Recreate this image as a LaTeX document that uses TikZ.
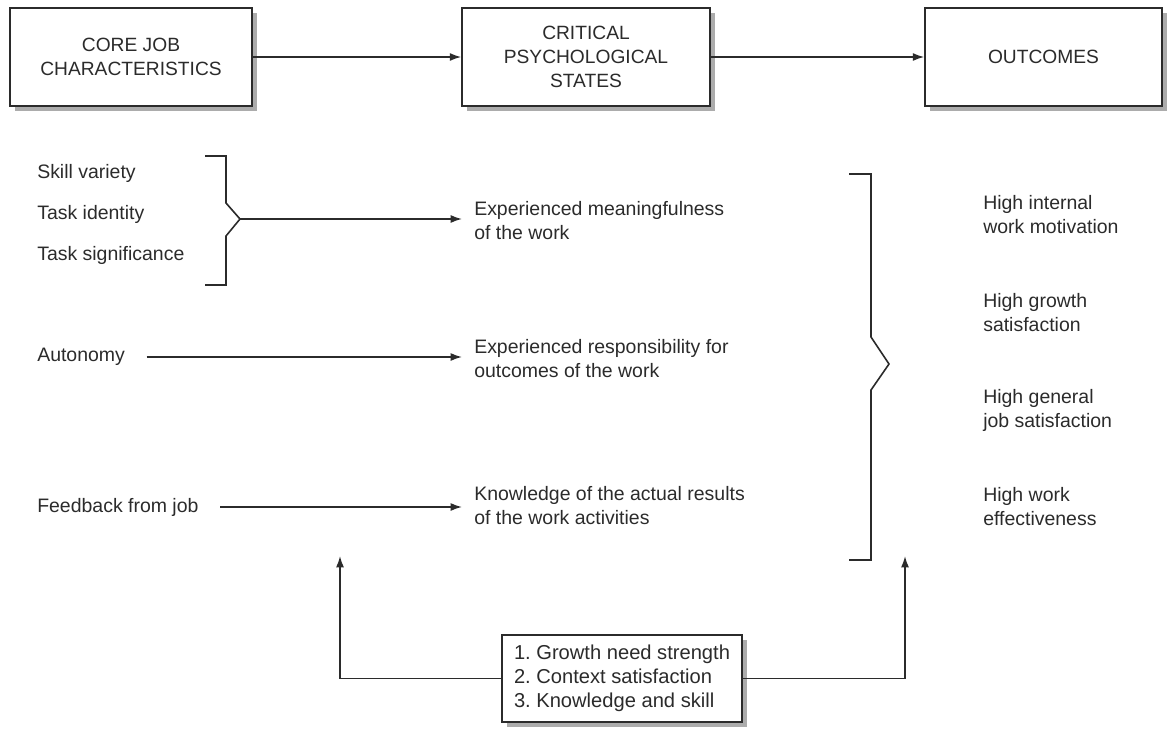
\documentclass[tikz,border=0pt]{standalone}
\usepackage{fontspec}
\setmainfont{Liberation Sans}
\usetikzlibrary{arrows.meta,shadows,positioning}
\definecolor{ink}{HTML}{2B2B2B}
\frenchspacing
\tikzset{
  headbox/.style={draw=ink, line width=1.2pt, fill=white, align=center,
    text=ink, font=\fontsize{14.4}{18}\selectfont,
    drop shadow={shadow xshift=3.5pt, shadow yshift=-3.5pt, fill=gray!65, opacity=1}},
  itemtext/.style={anchor=west, inner sep=0pt, align=left, text=ink,
    font=\fontsize{14.6}{18}\selectfont},
  flow/.style={draw=ink, line width=1.2pt, -{Latex[length=8.5pt,width=6pt]}},
  brace/.style={draw=ink, line width=1.2pt},
}
\begin{document}
\begin{tikzpicture}[x=0.75pt, y=-0.75pt]
  \useasboundingbox (0,0) rectangle (1170,732);
  % top row
  \node[headbox, minimum width=181.5pt, minimum height=73.5pt] (core) at (131,57) {CORE JOB\\CHARACTERISTICS};
  \node[headbox, minimum width=186pt, minimum height=73.5pt] (states) at (586,57) {CRITICAL\\PSYCHOLOGICAL\\STATES};
  \node[headbox, minimum width=177.75pt, minimum height=73.5pt] (outcomes) at (1043.5,57) {OUTCOMES};
  \draw[flow] (core) -- (states);
  \draw[flow] (states) -- (outcomes);

  % core job characteristics
  \node[itemtext] (skill) at (37,173) {Skill variety};
  \node[itemtext] (identity) at (37,214) {Task identity};
  \node[itemtext] (significance) at (37,255) {Task significance};
  \node[itemtext] (autonomy) at (37,357) {Autonomy};
  \node[itemtext] (feedback) at (37,507) {Feedback from job};

  % psychological states
  \node[itemtext] (meaning) at (474,220.5) {Experienced meaningfulness\\of the work};
  \node[itemtext] (respons) at (474,359) {Experienced responsibility for\\outcomes of the work};
  \node[itemtext] (knowledge) at (474,505.5) {Knowledge of the actual results\\of the work activities};

  % outcomes
  \node[itemtext] (out1) at (983,215) {High internal\\work motivation};
  \node[itemtext] (out2) at (983,312.5) {High growth\\satisfaction};
  \node[itemtext] (out3) at (983,410.5) {High general\\job satisfaction};
  \node[itemtext] (out4) at (983,507) {High work\\effectiveness};

  % brackets
  \draw[brace] (205,156) -- (226,156) -- (226,203) -- (240,219) coordinate (tip1)
    -- (226,236) -- (226,285) -- (205,285);
  \draw[brace] (849,174) -- (871,174) -- (871,337) -- (889,364) coordinate (tip2)
    -- (871,390) -- (871,560) -- (849,560);

  \draw[flow, shorten >=9pt] (tip1) -- (tip1 -| meaning.west);
  \draw[flow, shorten <=16pt, shorten >=9pt] (autonomy.east) -- (autonomy.east -| respons.west);
  \draw[flow, shorten <=16pt, shorten >=9pt] (feedback.east) -- (feedback.east -| knowledge.west);

  % moderators
  \node[headbox, minimum width=180pt, minimum height=65pt, align=left,
    font=\fontsize{15.1}{18}\selectfont] (moderators) at (622,678.5)
    {1. Growth need strength\\2. Context satisfaction\\3. Knowledge and skill};
  \coordinate (lefttip) at (340,556);
  \coordinate (righttip) at (905,556);
  \draw[flow] (moderators.west) -| (lefttip);
  \draw[flow] (moderators.east) -| (righttip);
\end{tikzpicture}
\end{document}
